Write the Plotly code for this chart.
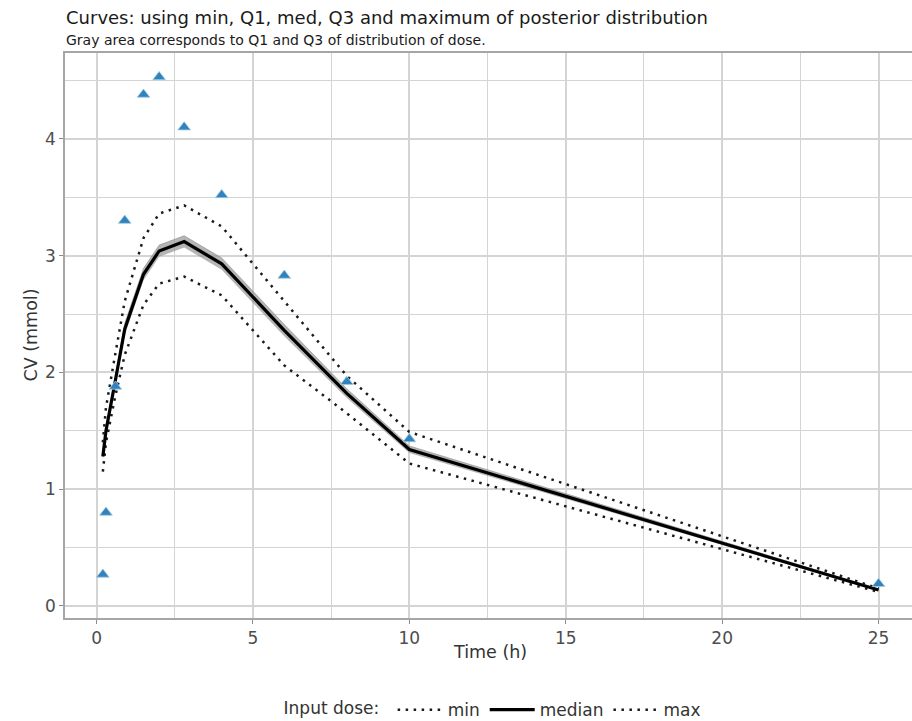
import plotly.graph_objects as go

# ---- data ----
time_h = [0.2, 0.3, 0.6, 0.9, 1.5, 2.0, 2.8, 4.0, 6.0, 8.0, 10.0, 25.0]
obs_cv = [0.27, 0.80, 1.88, 3.30, 4.38, 4.53, 4.10, 3.52, 2.83, 1.92, 1.43, 0.19]

cv_min = [1.15, 1.40, 1.80, 2.15, 2.58, 2.76, 2.82, 2.66, 2.06, 1.65, 1.22, 0.12]
cv_q1 = [1.25, 1.47, 1.89, 2.32, 2.79, 2.99, 3.07, 2.88, 2.31, 1.78, 1.31, 0.13]
cv_med = [1.28, 1.50, 1.93, 2.37, 2.84, 3.04, 3.12, 2.93, 2.36, 1.82, 1.34, 0.137]
cv_q3 = [1.31, 1.53, 1.97, 2.42, 2.89, 3.09, 3.17, 2.98, 2.41, 1.86, 1.37, 0.145]
cv_max = [1.40, 1.70, 2.16, 2.61, 3.15, 3.36, 3.43, 3.25, 2.61, 1.97, 1.49, 0.15]

legend_names = ["min", "median", "max"]
x_ticks = [0, 5, 10, 15, 20, 25]
y_ticks = [0, 1, 2, 3, 4]

FONT = "DejaVu Sans"
TXT = "#4d4d4d"

fig = go.Figure()

# gray ribbon Q1..Q3
fig.add_trace(go.Scatter(x=time_h, y=cv_q1, mode="lines", line=dict(width=0, color="rgba(0,0,0,0)"),
                         showlegend=False, hoverinfo="skip"))
fig.add_trace(go.Scatter(x=time_h, y=cv_q3, mode="lines", line=dict(width=1, color="rgba(150,150,150,0.7)"),
                         fill="tonexty", fillcolor="rgba(150,150,150,0.7)", showlegend=False, hoverinfo="skip"))

dotdash = "2.5px,5.5px"
fig.add_trace(go.Scatter(x=time_h, y=cv_min, mode="lines", name=legend_names[0],
                         line=dict(color="#1a1a1a", width=2.5, dash=dotdash)))
fig.add_trace(go.Scatter(x=time_h, y=cv_med, mode="lines", name=legend_names[1],
                         line=dict(color="black", width=3.2)))
fig.add_trace(go.Scatter(x=time_h, y=cv_max, mode="lines", name=legend_names[2],
                         line=dict(color="#1a1a1a", width=2.5, dash=dotdash)))

fig.add_trace(go.Scatter(x=time_h, y=obs_cv, mode="markers", showlegend=False,
                         marker=dict(symbol="triangle-up", size=11, color="#3182bd",
                                     line=dict(width=0.8, color="#9ecae1"))))

grid = "#d4d4d4"
axis_common = dict(showline=True, linecolor="#a6a6a6", linewidth=1.5, mirror=True,
                   ticks="outside", ticklen=4, tickcolor="#8c8c8c", tickwidth=1.2,
                   gridcolor=grid, gridwidth=1.5, zeroline=False,
                   tickfont=dict(family=FONT, size=17, color=TXT))

fig.update_layout(
    width=912, height=721,
    margin=dict(l=65, r=0, t=53, b=103, autoexpand=False),
    paper_bgcolor="white", plot_bgcolor="white",
    font=dict(family=FONT, color=TXT),
    xaxis=dict(range=[-1.01, 26.07], tickvals=x_ticks,
               minor=dict(dtick=2.5, tick0=0, showgrid=True, gridcolor=grid, gridwidth=1.3, ticks=""),
               **axis_common),
    yaxis=dict(range=[-0.103, 4.735], tickvals=y_ticks,
               minor=dict(dtick=0.5, tick0=0, showgrid=True, gridcolor=grid, gridwidth=1.3, ticks=""),
               **axis_common),
    showlegend=True,
    legend=dict(orientation="h", x=0.506, xanchor="center", y=-0.163, yanchor="middle",
                traceorder="normal", itemwidth=45,
                title=dict(text="Input dose: ", font=dict(family=FONT, size=17, color="#333")),
                font=dict(family=FONT, size=17, color="#333"), bgcolor="rgba(0,0,0,0)"),
    annotations=[
        dict(text="Curves: using min, Q1, med, Q3 and maximum of posterior distribution",
             xref="paper", yref="paper", x=-0.001, y=1.0637, xanchor="left", yanchor="middle",
             showarrow=False, font=dict(family=FONT, size=18, color="#1a1a1a")),
        dict(text="Gray area corresponds to Q1 and Q3 of distribution of dose.",
             xref="paper", yref="paper", x=-0.001, y=1.023, xanchor="left", yanchor="middle",
             showarrow=False, font=dict(family=FONT, size=14, color="#1a1a1a")),
        dict(text="Time (h)", xref="paper", yref="paper", x=0.502, y=-0.060,
             xanchor="center", yanchor="middle", showarrow=False,
             font=dict(family=FONT, size=17.5, color="#333")),
        dict(text="CV (mmol)", xref="paper", yref="paper", x=-0.0413, y=0.5, textangle=-90,
             xanchor="center", yanchor="middle", showarrow=False,
             font=dict(family=FONT, size=17.5, color="#333")),
    ],
)

fig.write_html("out.html")
